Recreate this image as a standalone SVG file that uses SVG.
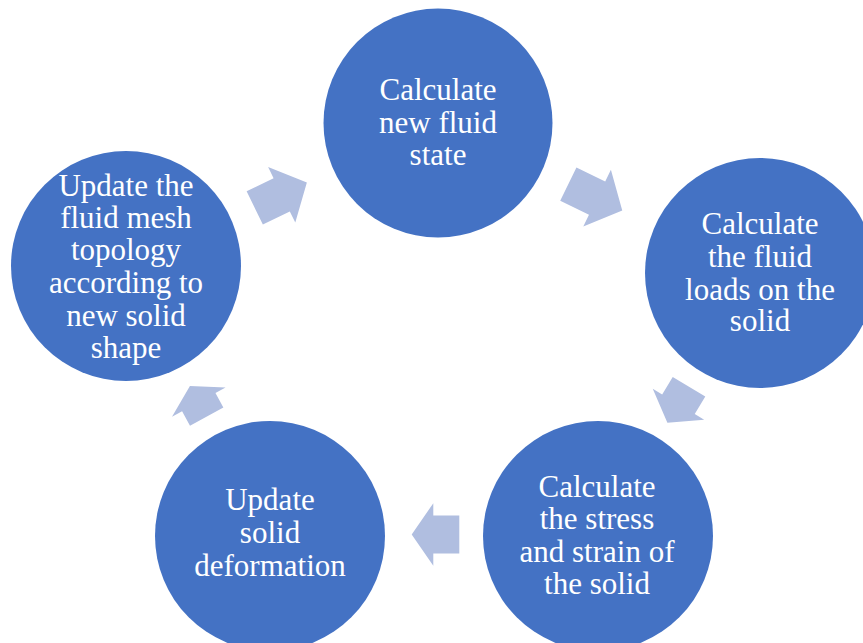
<svg xmlns="http://www.w3.org/2000/svg" width="863" height="643" viewBox="0 0 863 643">
<style>
.node{fill:#4472C4}
.lbl{font-family:"Liberation Serif","Times New Roman",serif;font-size:31px;fill:#FFFFFF;text-anchor:middle}
.arr{fill:#B0BEE0}
</style>
<rect width="863" height="643" fill="#FFFFFF"/>
<g id="connectors">
<polygon class="arr" transform="translate(280.8,195.2) rotate(-26)" points="-29,-18.5 1,-18.5 1,-31 29,0 1,31 1,18.5 -29,18.5"/>
<polygon class="arr" transform="translate(595.3,197.3) rotate(26)" points="-30,-18.5 2,-18.5 2,-31.5 30,0 2,31.5 2,18.5 -30,18.5"/>
<polygon class="arr" transform="translate(678.2,404.7) rotate(121)" points="-21,-19 -0.5,-19 -0.5,-30 21,0 -0.5,30 -0.5,19 -21,19"/>
<polygon class="arr" transform="translate(435.5,534.5) rotate(180)" points="-23.8,-19 2.2,-19 2.2,-31.3 23.8,0 2.2,31.3 2.2,19 -23.8,19"/>
<polygon class="arr" transform="translate(198.3,401.3) rotate(-118.6)" points="-17.5,-19 -1,-19 -1,-30.5 17.5,0 -1,30.5 -1,19 -17.5,19"/>
</g>
<g id="node1">
<circle class="node" cx="438" cy="123" r="114.5"/>
<text class="lbl" x="438" y="100">Calculate</text>
<text class="lbl" x="438" y="133">new fluid</text>
<text class="lbl" x="438" y="165">state</text>
</g>
<g id="node2">
<circle class="node" cx="760" cy="273" r="115"/>
<text class="lbl" x="760" y="234">Calculate</text>
<text class="lbl" x="760" y="267">the fluid</text>
<text class="lbl" x="760" y="300">loads on the</text>
<text class="lbl" x="760" y="331">solid</text>
</g>
<g id="node3">
<circle class="node" cx="598" cy="536" r="115"/>
<text class="lbl" x="597" y="497">Calculate</text>
<text class="lbl" x="597" y="529">the stress</text>
<text class="lbl" x="597" y="562">and strain of</text>
<text class="lbl" x="597" y="594">the solid</text>
</g>
<g id="node4">
<circle class="node" cx="270" cy="536" r="115"/>
<text class="lbl" x="270" y="510">Update</text>
<text class="lbl" x="270" y="543">solid</text>
<text class="lbl" x="270" y="576">deformation</text>
</g>
<g id="node5">
<circle class="node" cx="126" cy="266" r="115"/>
<text class="lbl" x="126" y="196">Update the</text>
<text class="lbl" x="126" y="228">fluid mesh</text>
<text class="lbl" x="126" y="260">topology</text>
<text class="lbl" x="126" y="293">according to</text>
<text class="lbl" x="126" y="326">new solid</text>
<text class="lbl" x="126" y="358">shape</text>
</g>
</svg>
